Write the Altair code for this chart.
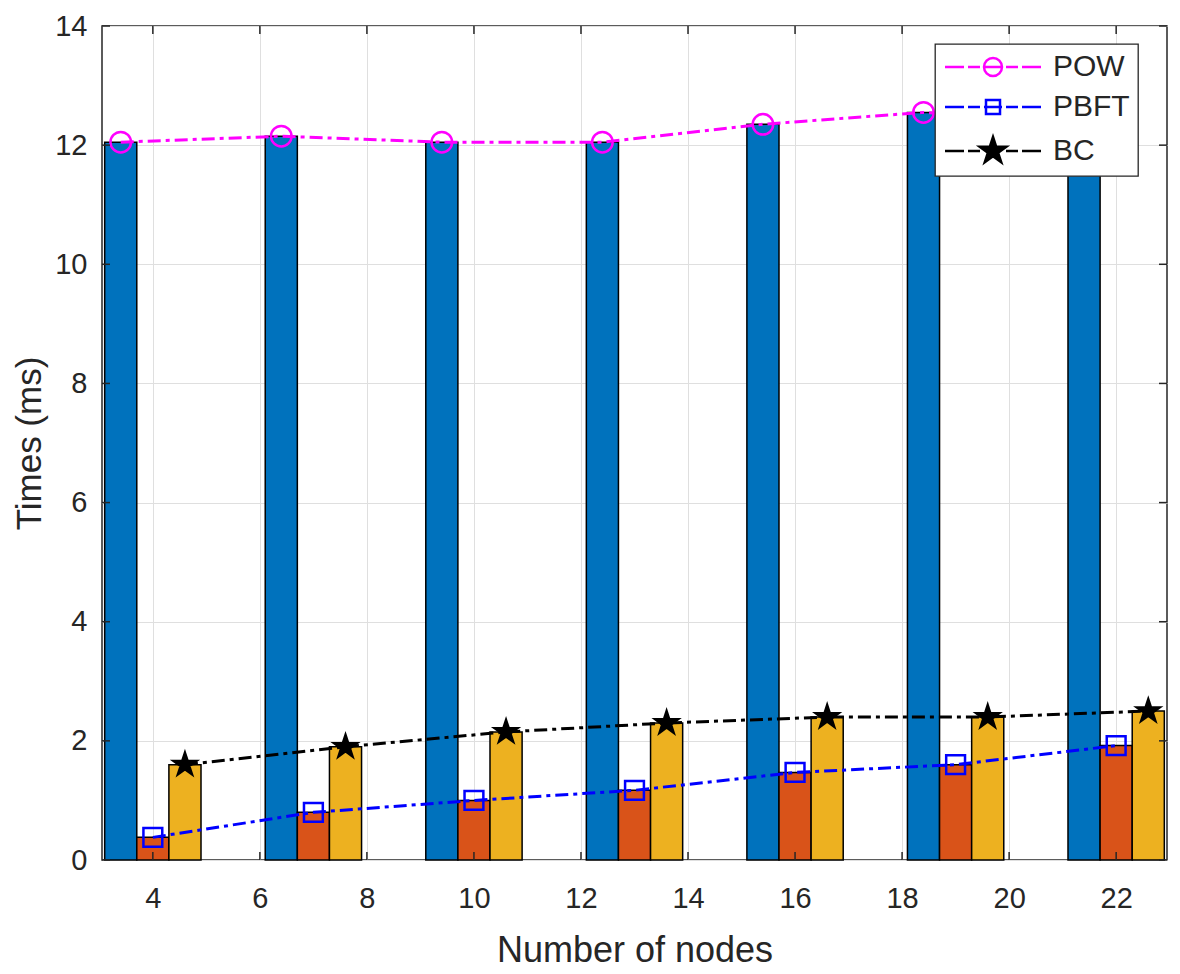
import altair as alt
import pandas as pd

# ---- data ----
nodes = [4, 7, 10, 13, 16, 19, 22]
pow_vals = [12.05, 12.15, 12.05, 12.05, 12.35, 12.55, 12.4]
pbft_vals = [0.38, 0.8, 1.0, 1.17, 1.47, 1.6, 1.92]
bc_vals = [1.6, 1.9, 2.15, 2.3, 2.4, 2.4, 2.5]
series_names = ["POW", "PBFT", "BC"]
x_ticks = [4, 6, 8, 10, 12, 14, 16, 18, 20, 22]
y_ticks = [0, 2, 4, 6, 8, 10, 12, 14]

# ---- styling ----
W, H = 1065, 834
FONT = "Liberation Sans"
TXT = "#262626"
bar_colors = ["#0072BD", "#D95319", "#EDB120"]
line_colors = ["#FF00FF", "#0000FF", "#000000"]
offsets = {"POW": -0.6, "PBFT": 0.0, "BC": 0.6}
half_w = 0.3

STAR = ("M0,-1.4L0.315,-0.433L1.331,-0.433L0.508,0.165L0.823,1.133L0,0.535"
        "L-0.823,1.133L-0.508,0.165L-1.331,-0.433L-0.315,-0.433Z")
DASH = "M-4.8,0L-2.9,0M-2.5,0L-1.3,0M1.3,0L2.5,0M2.9,0L4.8,0"
LEG_CIRCLE = DASH + "M-0.9,0L0.9,0M0.9,0A0.9,0.9,0,1,1,-0.9,0A0.9,0.9,0,1,1,0.9,0Z"
LEG_SQUARE = DASH + "M-0.9,0L0.9,0M-0.7,-0.7L0.7,-0.7L0.7,0.7L-0.7,0.7Z"
LEG_STAR = DASH + STAR

rows = []
for name, vals in zip(series_names, [pow_vals, pbft_vals, bc_vals]):
    for n, v in zip(nodes, vals):
        xc = n + offsets[name]
        rows.append({"series": name, "node": n, "x": xc,
                     "x0": xc - half_w, "x1": xc + half_w, "val": v})
df = pd.DataFrame(rows)

xscale = alt.Scale(domain=[3.05, 22.95], nice=False, zero=False)
yscale = alt.Scale(domain=[0, 14], nice=False, zero=True)

xaxis = alt.Axis(values=x_ticks, grid=True, gridColor="#dfdfdf", gridWidth=1,
                 ticks=False, domain=False, labelFont=FONT, labelFontSize=29,
                 labelColor=TXT, labelPadding=24, title="Number of nodes",
                 titleFont=FONT, titleFontSize=36, titleFontWeight="normal",
                 titleColor=TXT, titleY=101, titleBaseline="alphabetic")
yaxis = alt.Axis(values=y_ticks, grid=True, gridColor="#dfdfdf", gridWidth=1,
                 ticks=False, domain=False, labelFont=FONT, labelFontSize=29,
                 labelColor=TXT, labelPadding=15, title="Times (ms)",
                 titleFont=FONT, titleFontSize=35, titleFontWeight="normal",
                 titleColor=TXT, titleX=-62, titleY=H / 2, titleAngle=270,
                 titleBaseline="alphabetic", titleAlign="center")

XT = "Number of nodes"
YT = "Times (ms)"
sdom = alt.Scale(domain=series_names, range=line_colors)
base = alt.Chart(df)

bars = base.mark_bar(stroke="black", strokeWidth=1.5, opacity=1).encode(
    x=alt.X("x0:Q", scale=xscale, axis=xaxis, title=XT),
    x2="x1:Q",
    y=alt.Y("val:Q", scale=yscale, axis=yaxis, title=YT),
    y2=alt.datum(0),
    fill=alt.Fill("series:N", scale=alt.Scale(domain=series_names, range=bar_colors), legend=None),
)

lines = base.mark_line(strokeWidth=3, strokeDash=[13, 5, 4, 5]).encode(
    x=alt.X("x:Q", scale=xscale, axis=xaxis, title=XT),
    y=alt.Y("val:Q", scale=yscale, axis=yaxis, title=YT),
    stroke=alt.Stroke("series:N", scale=sdom, legend=None),
    detail="series:N",
)

points = base.mark_point(filled=True, strokeWidth=2.5, opacity=1).encode(
    x=alt.X("x:Q", scale=xscale, axis=xaxis, title=XT),
    y=alt.Y("val:Q", scale=yscale, axis=yaxis, title=YT),
    stroke=alt.Stroke("series:N", scale=sdom, legend=None),
    fill=alt.Fill("series:N", scale=alt.Scale(domain=series_names,
                  range=["transparent", "transparent", "black"]), legend=None),
    shape=alt.Shape("series:N", scale=alt.Scale(domain=series_names,
                    range=["circle", "square", STAR]), legend=None),
    size=alt.Size("series:N", scale=alt.Scale(domain=series_names,
                  range=[420, 289, 400]), legend=None),
)

legend_layer = base.transform_filter("false").mark_point(
    filled=True, strokeWidth=2.5, opacity=1, size=400).encode(
    x=alt.X("x:Q", scale=xscale, axis=xaxis, title=XT),
    y=alt.Y("val:Q", scale=yscale, axis=yaxis, title=YT),
    stroke=alt.Stroke("series:N", scale=sdom, title=None),
    fill=alt.Fill("series:N", scale=alt.Scale(domain=series_names,
                  range=["transparent", "transparent", "black"]), title=None),
    shape=alt.Shape("series:N", scale=alt.Scale(domain=series_names,
                    range=[LEG_CIRCLE, LEG_SQUARE, LEG_STAR]), title=None),
)

xt = pd.DataFrame({"t": x_ticks})
yt = pd.DataFrame({"t": y_ticks})
xtick_b = alt.Chart(xt).mark_rule(color=TXT, strokeWidth=1.5).encode(
    x=alt.X("t:Q", scale=xscale, axis=xaxis, title=XT), y=alt.value(H), y2=alt.value(H - 8))
xtick_t = alt.Chart(xt).mark_rule(color=TXT, strokeWidth=1.5).encode(
    x=alt.X("t:Q", scale=xscale, axis=xaxis, title=XT), y=alt.value(0), y2=alt.value(8))
ytick_l = alt.Chart(yt).mark_rule(color=TXT, strokeWidth=1.5).encode(
    y=alt.Y("t:Q", scale=yscale, axis=yaxis, title=YT), x=alt.value(0), x2=alt.value(8))
ytick_r = alt.Chart(yt).mark_rule(color=TXT, strokeWidth=1.5).encode(
    y=alt.Y("t:Q", scale=yscale, axis=yaxis, title=YT), x=alt.value(W), x2=alt.value(W - 8))

chart = alt.layer(
    bars, lines, points, xtick_b, xtick_t, ytick_l, ytick_r, legend_layer
).resolve_scale(
    fill="independent", stroke="independent", shape="independent", size="independent"
).resolve_legend(
    fill="independent", stroke="independent", shape="independent", size="independent"
).properties(
    width=W, height=H,
    autosize=alt.AutoSizeParams(type="none"),
    padding={"left": 94, "top": 18, "right": 5, "bottom": 112},
).configure_view(
    stroke=TXT, strokeWidth=1.5
).configure_legend(
    orient="none", legendX=833, legendY=18,
    fillColor="white", strokeColor="#262626", strokeWidth=1.3,
    padding=8, cornerRadius=0, rowPadding=10,
    symbolSize=400, symbolStrokeWidth=2.5, symbolOffset=35, labelOffset=45,
    labelFont=FONT, labelFontSize=30, labelColor=TXT, labelLimit=300,
)

chart.save("out.html", embed_options={"renderer": "svg", "actions": False})
